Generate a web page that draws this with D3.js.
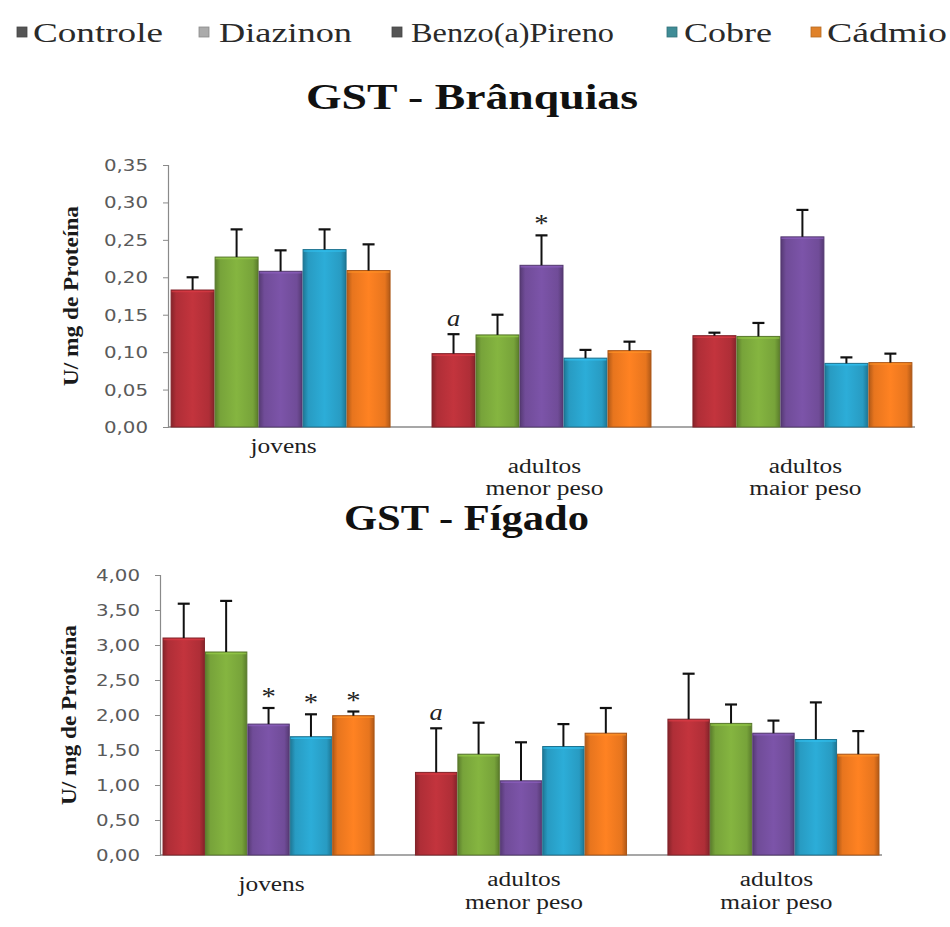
<!DOCTYPE html>
<html>
<head>
<meta charset="utf-8">
<script src="https://cdn.jsdelivr.net/npm/d3@7"></script>
<style>
  html, body { margin: 0; padding: 0; background: #ffffff; }
  svg { display: block; }
</style>
</head>
<body>
<svg id="chart" width="950" height="927"></svg>
<script>
// Series (treatments) and groups (fish classes)
const series = ["Controle", "Diazinon", "Benzo(a)Pireno", "Cobre", "Cádmio"];
const groups = ["jovens", "adultos menor peso", "adultos maior peso"];
const groupLines = [["jovens"], ["adultos", "menor peso"], ["adultos", "maior peso"]];

// GST activity in gills (U/mg protein): mean and standard error, per group x series
const branquiasMean = [
  [0.183, 0.227, 0.208, 0.237, 0.209],
  [0.098, 0.123, 0.216, 0.092, 0.102],
  [0.122, 0.121, 0.254, 0.085, 0.086]
];
const branquiasErr = [
  [0.017, 0.037, 0.028, 0.027, 0.035],
  [0.026, 0.027, 0.040, 0.011, 0.012],
  [0.004, 0.018, 0.036, 0.008, 0.012]
];
const branquiasTicks = [0, 0.05, 0.10, 0.15, 0.20, 0.25, 0.30, 0.35];

// GST activity in liver (U/mg protein)
const figadoMean = [
  [3.10, 2.90, 1.87, 1.69, 1.99],
  [1.18, 1.44, 1.06, 1.55, 1.74],
  [1.94, 1.88, 1.74, 1.65, 1.44]
];
const figadoErr = [
  [0.49, 0.73, 0.23, 0.32, 0.06],
  [0.63, 0.45, 0.55, 0.32, 0.36],
  [0.65, 0.27, 0.18, 0.53, 0.33]
];
const figadoTicks = [0, 0.5, 1, 1.5, 2, 2.5, 3, 3.5, 4];

// Significance marks: [group index, series index, symbol]
const branquiasMarks = [[1, 0, "a"], [1, 2, "*"]];
const figadoMarks = [[0, 2, "*"], [0, 3, "*"], [0, 4, "*"], [1, 0, "a"]];

const barColors = ["#b9313a", "#7eac3d", "#7650a0", "#2aa4cd", "#f47b20"];
const legendSwatch = ["#555555", "#ababab", "#555555", "#3f8c96", "#e0822a"];

const svg = d3.select("#chart");
const defs = svg.append("defs");
const serif = "Liberation Serif, Tinos, Times New Roman, serif";
const sans = "DejaVu Sans, Verdana, sans-serif";

// Bevelled look for the bars: darker sides, lighter middle
barColors.forEach((c, i) => {
  const base = d3.color(c);
  const g = defs.append("linearGradient").attr("id", "bar" + i)
    .attr("x1", 0).attr("x2", 1).attr("y1", 0).attr("y2", 0);
  g.append("stop").attr("offset", "0%").attr("stop-color", base.darker(0.9));
  g.append("stop").attr("offset", "12%").attr("stop-color", base.darker(0.15));
  g.append("stop").attr("offset", "50%").attr("stop-color", base.brighter(0.15));
  g.append("stop").attr("offset", "88%").attr("stop-color", base.darker(0.15));
  g.append("stop").attr("offset", "100%").attr("stop-color", base.darker(0.9));
});

// Horizontally widened text, as used throughout the figure
function wideText(parent, x, y, str, opts) {
  const g = parent.append("g")
    .attr("transform", `translate(${x},${y}) scale(${opts.sx || 1},1)`);
  const t = g.append("text")
    .attr("text-anchor", opts.anchor || "middle")
    .style("font-family", opts.family || serif)
    .attr("font-size", opts.size)
    .attr("font-weight", opts.weight || "normal")
    .attr("font-style", opts.style || "normal")
    .attr("fill", opts.fill || "#1a1a1a")
    .text(str);
  return t;
}

// Legend
const legendItems = [
  { m: 17, x0: 33, x1: 163 },
  { m: 199, x0: 219, x1: 352 },
  { m: 392, x0: 411, x1: 614 },
  { m: 667, x0: 684, x1: 772 },
  { m: 811, x0: 827, x1: 947 }
];
const legend = svg.append("g");
series.forEach((s, i) => {
  const it = legendItems[i];
  legend.append("rect").attr("x", it.m).attr("y", 27).attr("width", 10).attr("height", 10)
    .attr("fill", legendSwatch[i]).attr("stroke", d3.color(legendSwatch[i]).darker(0.6)).attr("stroke-width", 0.8);
  legend.append("text").attr("x", it.x0).attr("y", 42)
    .style("font-family", serif).attr("font-size", 28).attr("fill", "#2a2a2a")
    .attr("textLength", it.x1 - it.x0).attr("lengthAdjust", "spacingAndGlyphs")
    .text(s);
});

function drawPanel(cfg) {
  const g = svg.append("g");
  const y = d3.scaleLinear().domain([0, cfg.max]).range([cfg.bottom, cfg.top]);
  const x0 = d3.scaleBand().domain(groups).range([cfg.left, cfg.right])
    .paddingInner(cfg.gap).paddingOuter(0.01);
  const x1 = d3.scaleBand().domain(series).range([0, x0.bandwidth()]).padding(0);

  // Title
  g.append("text").attr("x", cfg.titleX0).attr("y", cfg.titleY)
    .style("font-family", serif).attr("font-size", 36).attr("font-weight", "bold")
    .attr("fill", "#111").attr("textLength", cfg.titleW).attr("lengthAdjust", "spacingAndGlyphs")
    .text(cfg.title);

  // Y axis
  const yAxis = d3.axisLeft(y).tickValues(cfg.ticks).tickSize(5).tickPadding(7)
    .tickFormat(d => d3.format(".2f")(d).replace(".", ","));
  const ay = g.append("g").attr("transform", `translate(${cfg.left},0)`).call(yAxis);
  ay.select(".domain").attr("stroke", "#8a8a8a").attr("stroke-width", 1.2);
  ay.selectAll(".tick line").attr("stroke", "#8a8a8a");
  ay.selectAll(".tick text").remove();
  cfg.ticks.forEach(t => {
    wideText(g, cfg.left - 20, y(t) + 6, d3.format(".2f")(t).replace(".", ","),
      { anchor: "end", family: sans, size: 16.5, sx: 1.2, fill: "#5a5a5a" });
  });

  // X axis baseline
  g.append("line").attr("x1", cfg.left).attr("x2", cfg.right)
    .attr("y1", y(0)).attr("y2", y(0)).attr("stroke", "#8a8a8a").attr("stroke-width", 1.4);

  // Y axis title
  g.append("text")
    .attr("transform", `translate(${cfg.titleYx},${(cfg.top + cfg.bottom) / 2}) rotate(-90)`)
    .attr("text-anchor", "middle").style("font-family", serif).attr("font-size", 21)
    .attr("font-weight", "bold").attr("fill", "#1a1a1a")
    .attr("textLength", 180).attr("lengthAdjust", "spacingAndGlyphs")
    .text("U/ mg de Proteína");

  // Bars and error bars
  groups.forEach((grp, gi) => {
    const gg = g.append("g").attr("transform", `translate(${x0(grp)},0)`);
    series.forEach((s, si) => {
      const m = cfg.mean[gi][si], e = cfg.err[gi][si];
      const bx = x1(s), bw = x1.bandwidth();
      gg.append("rect").attr("x", bx + 0.5).attr("y", y(m)).attr("width", bw - 1)
        .attr("height", y(0) - y(m)).attr("fill", `url(#bar${si})`)
        .attr("stroke", d3.color(barColors[si]).darker(1)).attr("stroke-width", 1);
      gg.append("line").attr("x1", bx + 1).attr("x2", bx + bw - 1)
        .attr("y1", y(m) + 1.5).attr("y2", y(m) + 1.5)
        .attr("stroke", d3.color(barColors[si]).brighter(0.5)).attr("stroke-width", 1.5).attr("opacity", 0.7);
      const cx = bx + bw / 2;
      gg.append("line").attr("x1", cx).attr("x2", cx).attr("y1", y(m)).attr("y2", y(m + e))
        .attr("stroke", "#111").attr("stroke-width", 2);
      gg.append("line").attr("x1", cx - 6).attr("x2", cx + 6).attr("y1", y(m + e)).attr("y2", y(m + e))
        .attr("stroke", "#111").attr("stroke-width", 2.2);
    });
  });

  // Significance marks above the error bars
  cfg.marks.forEach(([gi, si, sym]) => {
    const cx = x0(groups[gi]) + x1(series[si]) + x1.bandwidth() / 2;
    const top = y(cfg.mean[gi][si] + cfg.err[gi][si]);
    if (sym === "*") {
      wideText(g, cx, top - 3, "*", { size: 26, sx: 1.1, fill: "#222" });
    } else {
      wideText(g, cx, top - 8, sym, { size: 24, sx: 1.1, style: "italic", fill: "#222" });
    }
  });

  // Category labels
  groups.forEach((grp, gi) => {
    const cx = x0(grp) + x0.bandwidth() / 2;
    const lines = groupLines[gi];
    lines.forEach((ln, li) => {
      const yy = lines.length === 1 ? cfg.singleY : cfg.multiY[li];
      wideText(g, cx + 3, yy, ln, { size: 20, sx: 1.27, fill: "#1e1e1e" });
    });
  });
}

drawPanel({
  title: "GST - Brânquias", titleX0: 306, titleY: 109, titleW: 332,
  top: 165, bottom: 427, left: 168, right: 915, gap: 0.157, max: 0.35,
  ticks: branquiasTicks, mean: branquiasMean, err: branquiasErr, marks: branquiasMarks,
  titleYx: 78, singleY: 453, multiY: [473, 495]
});

drawPanel({
  title: "GST - Fígado", titleX0: 344, titleY: 530, titleW: 245,
  top: 575, bottom: 855, left: 160, right: 882, gap: 0.16, max: 4,
  ticks: figadoTicks, mean: figadoMean, err: figadoErr, marks: figadoMarks,
  titleYx: 76, singleY: 891, multiY: [886, 909]
});
</script>
</body>
</html>
